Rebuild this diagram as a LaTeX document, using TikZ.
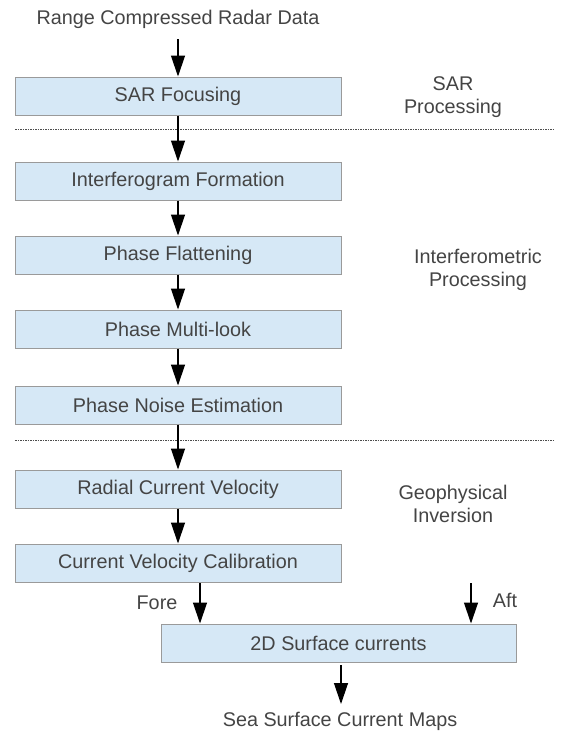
\documentclass[tikz,border=0pt]{standalone}
\usepackage{fontspec}
\setmainfont{Liberation Sans}
\usetikzlibrary{arrows.meta}
\definecolor{boxfill}{HTML}{D6E8F6}
\definecolor{boxline}{HTML}{9A9A9A}
\definecolor{txt}{HTML}{444444}
\tikzset{
  stepbox/.style={draw=boxline, line width=1pt, fill=boxfill, minimum width=326pt, minimum height=38pt, inner sep=0pt, text=txt, font=\fontsize{19.8}{23}\selectfont},
  lbl/.style={text=txt, font=\fontsize{19.8}{23}\selectfont, align=center, inner sep=0pt},
  flow/.style={-{Triangle[length=21pt,width=14pt]}, line width=1.3pt, black},
  sep/.style={dash pattern=on 1.5pt off 1pt, line width=0.8pt, black!70}
}
\begin{document}
\begin{tikzpicture}[x=1pt,y=-1pt]
\useasboundingbox (0,0) rectangle (570,734);
\node[lbl] (in) at (178,19) {Range Compressed Radar Data};
\node[stepbox] (sar) at (178,96) {SAR Focusing};
\node[stepbox] (ifg) at (178,181) {Interferogram Formation};
\node[stepbox] (flat) at (178,255) {Phase Flattening};
\node[stepbox] (ml) at (178,329) {Phase Multi-look};
\node[stepbox] (noise) at (178,405) {Phase Noise Estimation};
\node[stepbox] (rad) at (178,489) {Radial Current Velocity};
\node[stepbox] (cal) at (178,563) {Current Velocity Calibration};
\node[stepbox, minimum width=355pt] (surf) at (338.5,643) {2D Surface currents};
\node[lbl] (out) at (340,721) {Sea Surface Current Maps};
\node[lbl] (g1) at (453,97) {SAR\\Processing};
\node[lbl] (g2) at (478,270) {Interferometric\\Processing};
\node[lbl] (g3) at (453,504) {Geophysical\\Inversion};
\node[lbl] (fore) at (157,603) {Fore};
\node[lbl] (aft) at (505,600) {Aft};
\coordinate (d1a) at (15,129);
\coordinate (d1b) at (555,129);
\coordinate (d2a) at (15,440);
\coordinate (d2b) at (555,440);
\coordinate (topin) at (178,39);
\coordinate (forein) at (200,583);
\coordinate (aftin) at (471,583);
\coordinate (outstart) at (341,665);
\coordinate (outend) at (341,704);
\draw[sep] (d1a) -- (d1b);
\draw[sep] (d2a) -- (d2b);
\draw[flow] (topin) -- (sar.north);
\draw[flow] (sar) -- (ifg);
\draw[flow] (ifg) -- (flat);
\draw[flow] (flat) -- (ml);
\draw[flow] (ml) -- (noise);
\draw[flow] (noise) -- (rad);
\draw[flow] (rad) -- (cal);
\draw[flow] (forein) -- (forein |- surf.north);
\draw[flow] (aftin) -- (aftin |- surf.north);
\draw[flow] (outstart) -- (outend);
\end{tikzpicture}
\end{document}
